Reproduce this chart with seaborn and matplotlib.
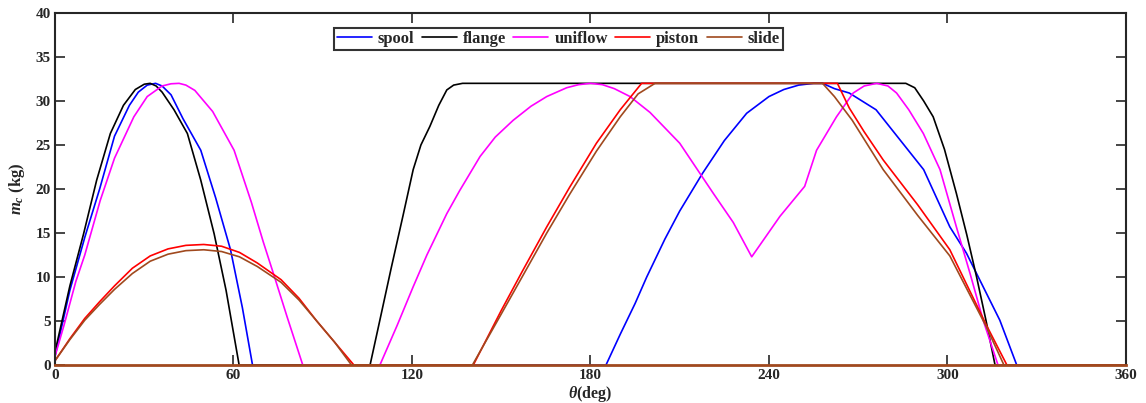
import matplotlib
matplotlib.use("Agg")
import matplotlib.pyplot as plt
import seaborn as sns

# spool (mavi)
spool_x = [0, 2, 5, 10, 15, 20, 25, 28, 31, 33.8, 36, 39, 43, 49, 54, 59, 63, 66.4,
           185.2, 190, 195, 198.9, 205, 210, 217.7, 225, 232.5, 240, 245, 250, 255, 258,
           262, 267, 276, 284, 292, 300.8, 306.4, 312, 317.6, 323.3, 360]
spool_y = [1.0, 4.0, 8.5, 14.5, 20, 26, 29.5, 31, 31.8, 32, 31.7, 30.7, 28, 24.4, 19, 13.1, 6.5, 0,
           0, 3.5, 7, 10, 14.3, 17.5, 21.8, 25.5, 28.6, 30.5, 31.3, 31.8, 32, 32,
           31.4, 30.9, 29, 25.6, 22.2, 15.7, 12.7, 8.9, 5.1, 0, 0]

# flange (siyah)
flange_x = [0, 2, 5, 9.6, 14, 18.6, 23, 27, 30, 32, 34, 36, 40, 44.5, 49, 53.5, 57.5, 61.9,
            105.9, 109.2, 113, 117, 120.4, 123, 126, 129, 131.7, 134, 137,
            286, 289, 292, 295.2, 299, 303, 306.5, 309.8, 313, 316, 360]
flange_y = [1.5, 4.5, 9, 14.9, 21, 26.3, 29.5, 31.3, 31.9, 32, 31.7, 31, 29, 26.3, 21, 14.9, 8.5, 0,
            0, 5.1, 11, 17, 22.2, 25, 27.1, 29.5, 31.25, 31.8, 32,
            32, 31.5, 30, 28.2, 24.5, 19.5, 14.8, 10, 5, 0, 0]

# uniflow (pembe)
uniflow_x = [0, 3, 7, 10, 15.2, 20, 26.5, 31, 36, 39, 41.7, 44, 47, 53, 60.2, 66, 70, 73.8, 78, 83.3,
             109.2, 115, 120.4, 125, 131.7, 136, 142.9, 148, 154, 160, 165.3, 172, 176, 180,
             184, 188, 193.3, 200, 210, 221.3, 228, 234.2, 243.7, 252, 256, 262.7, 268.3,
             272, 276.2, 280, 282.9, 287, 291.9, 297.5, 303, 307.6, 312, 317, 360]
uniflow_y = [1.0, 4.5, 9.5, 12.5, 18.7, 23.5, 28.2, 30.5, 31.7, 31.95, 32, 31.8, 31.2, 28.8, 24.4, 18.5, 14, 10, 5.5, 0,
             0, 4.5, 8.9, 12.5, 17.2, 19.8, 23.7, 25.9, 27.8, 29.4, 30.5, 31.5, 31.85, 32,
             31.85, 31.4, 30.5, 28.7, 25.2, 19.5, 16.2, 12.3, 16.9, 20.3, 24.4, 28.2, 30.9,
             31.7, 32, 31.7, 30.9, 29, 26.3, 22.2, 15.7, 10.4, 5.1, 0, 0]

# piston (kırmızı)
piston_x = [0, 5, 10, 15, 20, 26, 32, 38, 44, 50, 56, 62, 68, 76, 82, 88, 94, 100.5,
            140.6, 150, 157, 165.3, 173, 182, 190, 197.2,
            263, 267, 272, 278.4, 290, 300.8, 313, 320, 360]
piston_y = [0.5, 3.0, 5.3, 7.2, 9.0, 11.0, 12.4, 13.2, 13.6, 13.7, 13.5, 12.8, 11.6, 9.7, 7.6, 5.0, 2.6, 0,
            0, 6.2, 10.6, 15.7, 20.2, 25.2, 29.0, 32,
            32, 29.2, 26.5, 23.3, 18.2, 13.1, 4.6, 0, 0]

# slide (kahverengi)
slide_x = [0, 5, 10, 15, 20, 26, 32, 38, 44, 50, 56, 62, 68, 76, 82, 88, 94, 99.7,
           140.3, 150, 157, 165.3, 173, 182, 190, 196, 201.7,
           258, 262, 268, 278.4, 290, 300.8, 313, 319, 360]
slide_y = [0.5, 2.9, 5.1, 6.9, 8.6, 10.4, 11.8, 12.6, 13.0, 13.1, 12.9, 12.3, 11.2, 9.4, 7.4, 5.0, 2.6, 0,
           0, 5.8, 10.0, 15.0, 19.4, 24.3, 28.2, 30.8, 32,
           32, 30.5, 27.8, 22.2, 17.0, 12.4, 4.4, 0, 0]

x_ticks = [0, 60, 120, 180, 240, 300, 360]
y_ticks = [0, 5, 10, 15, 20, 25, 30, 35, 40]

sns.set_style("ticks")
plt.rcParams["font.family"] = ["Liberation Serif", "DejaVu Serif"]
plt.rcParams["font.weight"] = "bold"
plt.rcParams["mathtext.fontset"] = "custom"
plt.rcParams["mathtext.it"] = "Liberation Serif:italic:bold"
plt.rcParams["mathtext.rm"] = "Liberation Serif:bold"

fig = plt.figure(figsize=(11.46, 4.03), dpi=100)
ax = fig.add_axes([0.048, 0.094, 0.9345, 0.874])

seriler = [
    (spool_x, spool_y, "#0000FF", "spool"),
    (flange_x, flange_y, "#000000", "flange"),
    (uniflow_x, uniflow_y, "#FF00FF", "uniflow"),
    (piston_x, piston_y, "#FF0000", "piston"),
    (slide_x, slide_y, "#A0491E", "slide"),
]
for xs, ys, renk, ad in seriler:
    sns.lineplot(x=xs, y=ys, color=renk, label=ad, linewidth=1.2, ax=ax)

ax.set_xlim(0, 360)
ax.set_ylim(0, 40)
ax.set_xticks(x_ticks)
ax.set_yticks(y_ticks)
ax.tick_params(direction="in", top=True, right=True, length=7, width=1.2, labelsize=11, pad=3)
for t in ax.get_xticklabels() + ax.get_yticklabels():
    t.set_fontweight("bold")
for s in ax.spines.values():
    s.set_linewidth(1.5)
    s.set_zorder(5)
ax.spines["bottom"].set_color("#A0491E")
ax.spines["bottom"].set_linewidth(2)

ax.set_xlabel(r"$\theta$(deg)", fontsize=11.5, fontweight="bold")
ax.set_ylabel(r"$m_c$ (kg)", fontsize=12, fontweight="bold")
ax.xaxis.set_label_coords(0.5, -0.054)
ax.yaxis.set_label_coords(-0.026, 0.5)

leg = ax.legend(loc="upper center", bbox_to_anchor=(0.47, 0.958), ncol=5,
                frameon=True, fancybox=False, edgecolor="black", fontsize=12,
                handlelength=2.1, columnspacing=0.45, handletextpad=0.35,
                borderpad=0.2, borderaxespad=0)
leg.get_frame().set_linewidth(1.5)
for t in leg.get_texts():
    t.set_fontweight("bold")

plt.savefig("out.png", dpi=100)
